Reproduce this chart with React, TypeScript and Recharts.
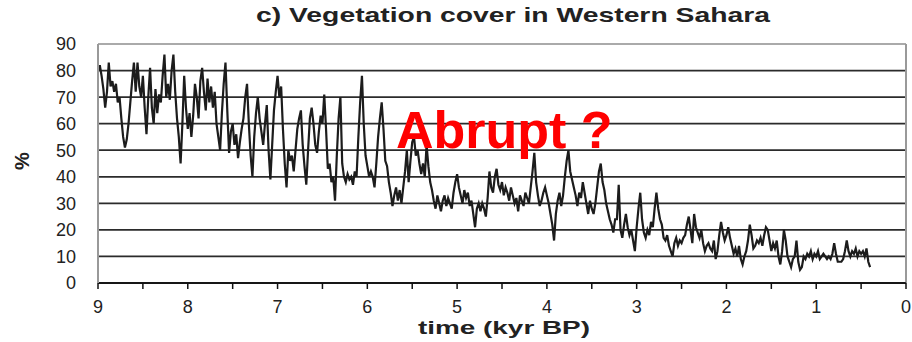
import { LineChart, Line, XAxis, YAxis, CartesianGrid, ReferenceLine } from "recharts";

// sampling times, kyr BP (oldest first)
const timeKyr = [
  9.0, 8.98, 8.96, 8.94, 8.92, 8.9, 8.88, 8.86, 8.84, 8.82,
  8.8, 8.78, 8.76, 8.74, 8.72, 8.7, 8.68, 8.66, 8.64, 8.62,
  8.6, 8.58, 8.56, 8.54, 8.52, 8.5, 8.48, 8.46, 8.44, 8.42,
  8.4, 8.38, 8.36, 8.34, 8.32, 8.3, 8.28, 8.26, 8.24, 8.22,
  8.2, 8.18, 8.16, 8.14, 8.12, 8.1, 8.08, 8.06, 8.04, 8.02,
  8.0, 7.98, 7.96, 7.94, 7.92, 7.9, 7.88, 7.86, 7.84, 7.82,
  7.8, 7.78, 7.76, 7.74, 7.72, 7.7, 7.68, 7.66, 7.64, 7.62,
  7.6, 7.58, 7.56, 7.54, 7.52, 7.5, 7.48, 7.46, 7.44, 7.42,
  7.4, 7.38, 7.36, 7.34, 7.32, 7.3, 7.28, 7.26, 7.24, 7.22,
  7.2, 7.18, 7.16, 7.14, 7.12, 7.1, 7.08, 7.06, 7.04, 7.02,
  7.0, 6.98, 6.96, 6.94, 6.92, 6.9, 6.88, 6.86, 6.84, 6.82,
  6.8, 6.78, 6.76, 6.74, 6.72, 6.7, 6.68, 6.66, 6.64, 6.62,
  6.6, 6.58, 6.56, 6.54, 6.52, 6.5, 6.48, 6.46, 6.44, 6.42,
  6.4, 6.38, 6.36, 6.34, 6.32, 6.3, 6.28, 6.26, 6.24, 6.22,
  6.2, 6.18, 6.16, 6.14, 6.12, 6.1, 6.08, 6.06, 6.04, 6.02,
  6.0, 5.98, 5.96, 5.94, 5.92, 5.9, 5.88, 5.86, 5.84, 5.82,
  5.8, 5.78, 5.76, 5.74, 5.72, 5.7, 5.68, 5.66, 5.64, 5.62,
  5.6, 5.58, 5.56, 5.54, 5.52, 5.5, 5.48, 5.46, 5.44, 5.42,
  5.4, 5.38, 5.36, 5.34, 5.32, 5.3, 5.28, 5.26, 5.24, 5.22,
  5.2, 5.18, 5.16, 5.14, 5.12, 5.1, 5.08, 5.06, 5.04, 5.02,
  5.0, 4.98, 4.96, 4.94, 4.92, 4.9, 4.88, 4.86, 4.84, 4.82,
  4.8, 4.78, 4.76, 4.74, 4.72, 4.7, 4.68, 4.66, 4.64, 4.62,
  4.6, 4.58, 4.56, 4.54, 4.52, 4.5, 4.48, 4.46, 4.44, 4.42,
  4.4, 4.38, 4.36, 4.34, 4.32, 4.3, 4.28, 4.26, 4.24, 4.22,
  4.2, 4.18, 4.16, 4.14, 4.12, 4.1, 4.08, 4.06, 4.04, 4.02,
  4.0, 3.98, 3.96, 3.94, 3.92, 3.9, 3.88, 3.86, 3.84, 3.82,
  3.8, 3.78, 3.76, 3.74, 3.72, 3.7, 3.68, 3.66, 3.64, 3.62,
  3.6, 3.58, 3.56, 3.54, 3.52, 3.5, 3.48, 3.46, 3.44, 3.42,
  3.4, 3.38, 3.36, 3.34, 3.32, 3.3, 3.28, 3.26, 3.24, 3.22,
  3.2, 3.18, 3.16, 3.14, 3.12, 3.1, 3.08, 3.06, 3.04, 3.02,
  3.0, 2.98, 2.96, 2.94, 2.92, 2.9, 2.88, 2.86, 2.84, 2.82,
  2.8, 2.78, 2.76, 2.74, 2.72, 2.7, 2.68, 2.66, 2.64, 2.62,
  2.6, 2.58, 2.56, 2.54, 2.52, 2.5, 2.48, 2.46, 2.44, 2.42,
  2.4, 2.38, 2.36, 2.34, 2.32, 2.3, 2.28, 2.26, 2.24, 2.22,
  2.2, 2.18, 2.16, 2.14, 2.12, 2.1, 2.08, 2.06, 2.04, 2.02,
  2.0, 1.98, 1.96, 1.94, 1.92, 1.9, 1.88, 1.86, 1.84, 1.82,
  1.8, 1.78, 1.76, 1.74, 1.72, 1.7, 1.68, 1.66, 1.64, 1.62,
  1.6, 1.58, 1.56, 1.54, 1.52, 1.5, 1.48, 1.46, 1.44, 1.42,
  1.4, 1.38, 1.36, 1.34, 1.32, 1.3, 1.28, 1.26, 1.24, 1.22,
  1.2, 1.18, 1.16, 1.14, 1.12, 1.1, 1.08, 1.06, 1.04, 1.02,
  1.0, 0.98, 0.96, 0.94, 0.92, 0.9, 0.88, 0.86, 0.84, 0.82,
  0.8, 0.78, 0.76, 0.74, 0.72, 0.7, 0.68, 0.66, 0.64, 0.62,
  0.6, 0.58, 0.56, 0.54, 0.52, 0.5, 0.48, 0.46, 0.44, 0.42,
  0.4,
];

// vegetation cover, %
const vegCover = [
  80, 82, 78, 73, 66, 72, 83, 74, 76, 72,
  75, 68, 70, 62, 55, 51, 54, 60, 68, 76,
  83, 72, 83, 74, 70, 78, 66, 56, 70, 81,
  66, 60, 73, 64, 71, 68, 78, 86, 70, 75,
  69, 80, 86, 72, 62, 55, 45, 60, 78, 66,
  58, 64, 55, 63, 75, 70, 62, 76, 81, 72,
  65, 77, 68, 74, 66, 72, 60, 55, 50, 64,
  75, 83, 65, 49, 57, 60, 52, 56, 47, 53,
  58, 62, 70, 75, 60, 48, 40, 55, 64, 70,
  62, 57, 52, 60, 67, 50, 39, 52, 65, 72,
  78, 70, 74, 58, 45, 36, 50, 46, 48, 42,
  50, 58, 62, 65, 52, 44, 37, 50, 62, 66,
  60, 52, 49, 57, 63, 60, 71, 58, 43, 45,
  38, 40, 31, 48, 62, 70, 45, 40, 38, 41,
  39, 40, 37, 42, 40, 55, 68, 78, 60, 48,
  44, 40, 42, 40, 36, 45, 55, 62, 68, 58,
  46, 44, 38, 34, 29, 33, 36, 31, 35, 30,
  36, 42, 50, 38, 46, 53, 55, 48, 50, 45,
  41, 45, 40, 52, 44, 38, 35, 31, 28, 33,
  30, 27, 31, 33, 29, 32, 30, 28, 34, 38,
  41, 36, 33, 30, 35, 32, 34, 29, 31, 26,
  21, 28, 30, 27, 30, 28, 25, 32, 42, 36,
  34, 40, 43, 37, 35, 38, 33, 36, 34, 31,
  36, 33, 30, 32, 27, 33, 31, 29, 34, 32,
  30, 36, 42, 49, 38, 33, 29, 31, 34, 36,
  33, 30, 26, 22, 16, 26, 31, 34, 29, 33,
  40, 46, 50, 42, 39, 36, 33, 29, 34, 32,
  38, 34, 30, 26, 31, 28, 26, 30, 36, 42,
  45, 38, 35, 30, 27, 24, 22, 19, 24, 24,
  37, 20, 17, 22, 26, 21, 18, 20, 16, 12,
  21, 28, 34, 24, 19, 17, 20, 18, 23, 21,
  28, 34, 28, 24, 22, 17, 16, 18, 14, 12,
  10, 15, 17, 14, 16, 15, 17, 18, 22, 25,
  20, 15, 26, 21, 19, 17, 20, 15, 12, 14,
  15, 13, 12, 16, 9, 12, 18, 23, 19, 16,
  18, 21, 17, 14, 11, 13, 10, 14, 9, 7,
  10, 12, 16, 22, 18, 13, 14, 16, 15, 17,
  14, 18, 21, 20, 16, 12, 15, 13, 16, 10,
  7, 12, 20, 16, 10, 8, 6, 9, 10, 16,
  8, 5, 6, 10, 9, 11, 10, 12, 9, 11,
  10, 12, 9, 10, 11, 10, 9, 10, 9, 11,
  15, 11, 8, 8, 8, 9, 12, 16, 12, 10,
  12, 11, 13, 10, 12, 11, 12, 10, 13, 8,
  6,
];

const yTicks = [0, 10, 20, 30, 40, 50, 60, 70, 80, 90];
const xTicks = [0, 0.5, 1, 1.5, 2, 2.5, 3, 3.5, 4, 4.5, 5, 5.5, 6, 6.5, 7, 7.5, 8, 8.5, 9];

const FONT = '"Liberation Sans", Arial, Helvetica, sans-serif';

const rows = timeKyr.map((t, i) => ({ t, v: vegCover[i] }));

export default function App() {
  return (
    <div style={{ position: "absolute", left: 0, top: 0, width: 912, height: 342, background: "#fff" }}>
      <LineChart
        width={912}
        height={342}
        data={rows}
        margin={{ top: 44, right: 6, bottom: 29, left: 38 }}
      >
        <CartesianGrid horizontal vertical={false} stroke="#2b2b2b" strokeWidth={1.8} />
        <XAxis
          dataKey="t"
          type="number"
          domain={[0, 9]}
          reversed
          ticks={xTicks}
          interval={0}
          height={30}
          tickFormatter={(t: number) => (Number.isInteger(t) ? String(t) : "")}
          stroke="#111"
          strokeWidth={1.5}
          tickSize={6}
          tickMargin={11}
          tick={{ fill: "#222", fontSize: 18, fontFamily: FONT }}
        />
        <YAxis
          type="number"
          domain={[0, 90]}
          ticks={yTicks}
          interval={0}
          width={60}
          stroke="#999"
          strokeWidth={2}
          tickLine={false}
          tickSize={6}
          tickMargin={16}
          tick={{ fill: "#222", fontSize: 18, fontFamily: FONT }}
        />
        <ReferenceLine y={90} stroke="#aaa" strokeWidth={2} />
        <ReferenceLine x={0} stroke="#999" strokeWidth={2} />
        <Line
          type="linear"
          dataKey="v"
          stroke="#1c1c1c"
          strokeWidth={2.2}
          dot={false}
          isAnimationActive={false}
        />
      </LineChart>
      <svg
        width={912}
        height={342}
        style={{ position: "absolute", left: 0, top: 0, pointerEvents: "none" }}
        fontFamily={FONT}
      >
        <text x={256} y={22} textLength={514} lengthAdjust="spacingAndGlyphs" fontSize={21} fontWeight="bold" fill="#222">
          c) Vegetation cover in Western Sahara
        </text>
        <text x={418} y={334} textLength={172} lengthAdjust="spacingAndGlyphs" fontSize={19} fontWeight="bold" fill="#222">
          time (kyr BP)
        </text>
        <text x={29} y={161} textAnchor="middle" fontSize={20} fontWeight="bold" fill="#222" transform="rotate(-90 29 161)">
          %
        </text>
        <text x={396} y={148} fontSize={52} fontWeight="bold" fill="#ff0000">
          Abrupt ?
        </text>
      </svg>
    </div>
  );
}
